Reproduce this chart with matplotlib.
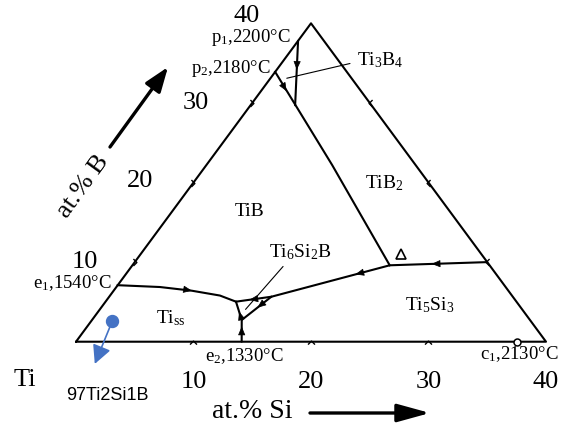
import matplotlib.pyplot as plt
from matplotlib.path import Path

plt.rcParams['font.family'] = ['Liberation Serif', 'DejaVu Serif']
plt.rcParams['mathtext.fontset'] = 'custom'
plt.rcParams['mathtext.rm'] = 'Liberation Serif'
plt.rcParams['mathtext.it'] = 'Liberation Serif:italic'

# Ti-rich corner of the Ti-Si-B liquidus projection, all points as at.% (Si, B)
edge_ticks = [10, 20, 30]
corner_labels = ['10', '20', '30', '40']

p1 = (0.0, 37.8)
p2 = (0.0, 33.9)
d_pt = (3.8, 29.7)
u_pt = (21.9, 9.6)
r_pt = (30.0, 10.0)
c_pt = (13.8, 5.65)
a_pt = (11.1, 5.03)
b_pt = (12.74, 2.73)
e1 = (0.0, 7.1)
e2 = (14.1, 0.0)
c1 = (37.5, 0.0)
tri_pt = (22.2, 11.0)

e1_curve_si = [0.0, 3.71, 6.64, 9.35, 11.1]
e1_curve_b = [7.1, 6.87, 6.41, 5.80, 5.03]
tib_tib2_si = [0.0, 10.7, 21.9]
tib_tib2_b = [33.9, 22.2, 9.6]

sample = (1.78, 2.65)
sample_name = '97Ti2Si1B'
blue = '#4472C4'


def tern(si, b):
    """(Si, B) in at.% -> plot coordinates"""
    return si + b / 2.0, b


fig = plt.figure(figsize=(5.61, 4.26), dpi=100)
ax = fig.add_axes([0, 0, 1, 1])
ax.set_xlim(-6.468, 41.277)
ax.set_ylim(-10.59, 42.93)
ax.axis('off')

LW = 1.5


def seg(pts, **kw):
    xs, ys = zip(*[tern(*p) for p in pts])
    ax.plot(xs, ys, color='black', lw=kw.pop('lw', LW), solid_capstyle='round', **kw)


def flow_arrow(p_from, p_to, frac):
    x0, y0 = tern(*p_from)
    x1, y1 = tern(*p_to)
    xm, ym = x0 + (x1 - x0) * frac, y0 + (y1 - y0) * frac
    dx, dy = (x1 - x0) * 0.01, (y1 - y0) * 0.01
    ax.annotate('', xy=(xm + dx, ym + dy), xytext=(xm - dx, ym - dy),
                arrowprops=dict(arrowstyle='-|>,head_length=0.6,head_width=0.25',
                                mutation_scale=9, color='black', lw=0.5,
                                shrinkA=0, shrinkB=0))


# outer triangle
seg([(0, 0), (40, 0), (0, 40), (0, 0)])

# edge ticks (small chevrons)
chev_right = Path([(-0.6, 1), (0.4, 0), (-0.6, -1)])
chev_left = Path([(0.6, 1), (-0.4, 0), (0.6, -1)])
chev_up = Path([(-1, -0.6), (0, 0.4), (1, -0.6)])
for t in edge_ticks:
    x, y = tern(0, t)
    ax.plot(x, y, marker=chev_right, ms=5, mfc='none', mec='black', mew=1)
    x, y = tern(40 - t, t)
    ax.plot(x, y, marker=chev_left, ms=5, mfc='none', mec='black', mew=1)
    x, y = tern(t, 0)
    ax.plot(x, y, marker=chev_up, ms=5, mfc='none', mec='black', mew=1)

# univariant lines
seg([p1, d_pt])
xs = [s + b / 2 for s, b in zip(tib_tib2_si, tib_tib2_b)]
ax.plot(xs, tib_tib2_b, color='black', lw=LW)
seg([r_pt, u_pt, c_pt])
seg([c_pt, a_pt])
seg([c_pt, b_pt])
seg([e2, b_pt, a_pt])
xs = [s + b / 2 for s, b in zip(e1_curve_si, e1_curve_b)]
ax.plot(xs, e1_curve_b, color='black', lw=LW)

# direction of falling temperature
flow_arrow(p1, d_pt, 0.44)
flow_arrow(p2, u_pt, 0.09)
flow_arrow(r_pt, u_pt, 0.56)
flow_arrow(u_pt, c_pt, 0.28)
flow_arrow(c_pt, a_pt, 0.61)
flow_arrow(c_pt, b_pt, 0.46)
flow_arrow(b_pt, a_pt, 0.45)
flow_arrow(e2, b_pt, 0.69)
flow_arrow((e1_curve_si[2], e1_curve_b[2]), (e1_curve_si[3], e1_curve_b[3]), 0.0)

# special points
x, y = tern(*c1)
ax.plot(x, y, 'o', ms=5, mfc='white', mec='black', mew=1.1, zorder=4)
x, y = tern(*tri_pt)
ax.plot(x, y, '^', ms=7, mfc='white', mec='black', mew=1.2)

# axis numbers
for i, lab in enumerate(corner_labels):
    v = (i + 1) * 10
    x, y = tern(0, v)
    off = [(-50, 0), (-53, 2), (-56, 0), (-64, 7)][i]
    ax.annotate(lab, (x, y), xytext=off, textcoords='offset pixels',
                ha='center', va='center', fontsize=19)
    x, y = tern(v, 0)
    ax.annotate(lab, (x, y), xytext=(0, -40), textcoords='offset pixels',
                ha='center', va='center', fontsize=19)
ax.annotate('Ti', (0, 0), xytext=(-51, -38), textcoords='offset pixels',
            ha='center', va='center', fontsize=19)

# invariant point labels
pt_fs = 13.5
ax.annotate('p$_1$,2200°C', tern(*p1), xytext=(-7, 3), textcoords='offset pixels',
            ha='right', va='center', fontsize=pt_fs)
ax.annotate('p$_2$,2180°C', tern(*p2), xytext=(-4, 3), textcoords='offset pixels',
            ha='right', va='center', fontsize=pt_fs)
ax.annotate('e$_1$,1540°C', tern(*e1), xytext=(-6, 2), textcoords='offset pixels',
            ha='right', va='center', fontsize=pt_fs)
ax.annotate('e$_2$,1330°C', tern(*e2), xytext=(3, -14), textcoords='offset pixels',
            ha='center', va='center', fontsize=pt_fs)
ax.annotate('c$_1$,2130°C', tern(*c1), xytext=(-37, -12), textcoords='offset pixels',
            ha='left', va='center', fontsize=pt_fs)

# primary phase fields
ph_fs = 14
ax.text(*tern(6.65, 16.3), 'TiB', ha='center', va='center', fontsize=ph_fs)
ax.text(*tern(16.3, 19.9), 'TiB$_2$', ha='center', va='center', fontsize=ph_fs)
ax.text(*tern(6.6, 2.9), r'Ti$_{\mathrm{ss}}$', ha='center', va='center', fontsize=ph_fs)
ax.text(*tern(27.8, 4.6), 'Ti$_5$Si$_3$', ha='center', va='center', fontsize=ph_fs)
ax.annotate('Ti$_3$B$_4$', tern(1.39, 33.1), xytext=tern(6.2, 35.4),
            ha='left', va='center', fontsize=ph_fs,
            arrowprops=dict(arrowstyle='-', lw=0.8, color='black',
                            shrinkA=3, shrinkB=0, relpos=(0, 0.4)))
ax.annotate('Ti$_6$Si$_2$B', tern(12.4, 4.06), xytext=tern(13.4, 11.3),
            ha='center', va='center', fontsize=ph_fs,
            arrowprops=dict(arrowstyle='-', lw=0.8, color='black',
                            shrinkA=2, shrinkB=0, relpos=(0.3, 0)))

# axis titles with arrows
fig.text(83 / 561, 1 - 187 / 426, 'at.% B', rotation=54, rotation_mode='anchor',
         ha='center', va='center', fontsize=19)
ax.annotate('', xy=(168 / 561, 1 - 67 / 426), xytext=(110 / 561, 1 - 147 / 426),
            xycoords='figure fraction',
            arrowprops=dict(arrowstyle='-|>,head_length=0.6,head_width=0.22',
                            mutation_scale=25, lw=2.4, color='black',
                            shrinkA=0, shrinkB=0))
fig.text(252 / 561, 1 - 412 / 426, 'at.% Si', ha='center', va='center', fontsize=20)
ax.annotate('', xy=(430 / 561, 1 - 413 / 426), xytext=(310 / 561, 1 - 413 / 426),
            xycoords='figure fraction',
            arrowprops=dict(arrowstyle='-|>,head_length=0.8,head_width=0.22',
                            mutation_scale=25, lw=2.4, color='black',
                            shrinkA=0, shrinkB=0))

# alloy composition marker
sx, sy = tern(*sample)
disp = ax.transData.transform((sx, sy))
tip = ax.transData.inverted().transform((disp[0] - 17.7, disp[1] - 43.3))
ax.annotate('', xy=tip, xytext=(sx, sy),
            arrowprops=dict(arrowstyle='-|>,head_length=0.75,head_width=0.38',
                            mutation_scale=15, lw=1.2, color=blue,
                            shrinkA=0, shrinkB=0))
ax.plot(sx, sy, 'o', ms=8.6, color=blue, zorder=5)
fig.text(107 / 561, 1 - 395 / 426, sample_name, family='Liberation Sans',
         ha='center', va='center', fontsize=13)

fig.savefig('out.png', dpi=100)
